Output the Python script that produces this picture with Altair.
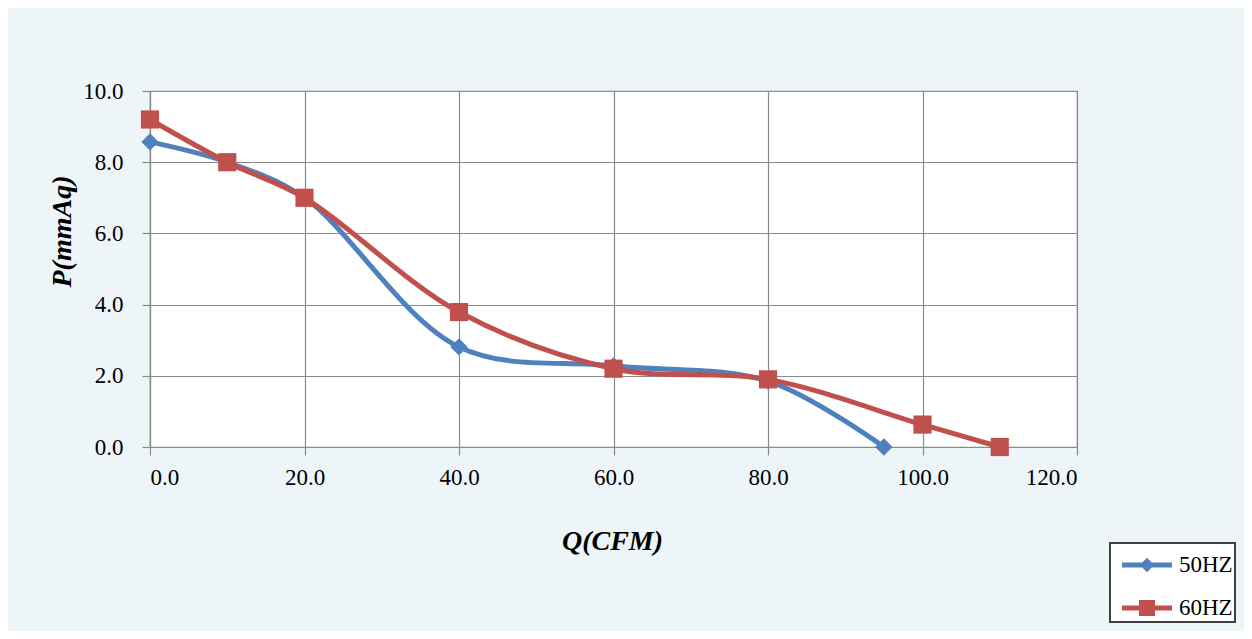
import altair as alt
import pandas as pd

# ---- data ----
q_50 = [0, 10, 20, 40, 60, 80, 95]
p_50 = [8.57, 8.0, 7.0, 2.81, 2.28, 1.85, 0.0]
q_60 = [0, 10, 20, 40, 60, 80, 100, 110]
p_60 = [9.2, 8.0, 7.0, 3.79, 2.2, 1.9, 0.63, 0.0]
series_names = ["50HZ", "60HZ"]
series_colors = ["#4F81BD", "#C0504D"]
series_shapes = ["diamond", "square"]
x_ticks = [0, 20, 40, 60, 80, 100, 120]
y_ticks = [0, 2, 4, 6, 8, 10]

rows = []
for q, p in zip(q_50, p_50):
    rows.append({"Q": q, "P": p, "series": series_names[0]})
for q, p in zip(q_60, p_60):
    rows.append({"Q": q, "P": p, "series": series_names[1]})
df = pd.DataFrame(rows)

FONT = "Liberation Serif"
GRID = "#8a8a8a"

xenc = alt.X(
    "Q:Q",
    scale=alt.Scale(domain=[0, 120], nice=False),
    axis=alt.Axis(
        values=x_ticks, format=".1f", tickSize=8, labelPadding=11,
        title="Q(CFM)", titleX=462, titleY=94, titleAlign="center",
        titleBaseline="middle",
    ),
)
yenc = alt.Y(
    "P:Q",
    scale=alt.Scale(domain=[0, 10], nice=False),
    axis=alt.Axis(
        values=y_ticks, format=".1f", tickSize=8, labelPadding=19,
        title="P(mmAq)", titleX=-88, titleY=140, titleAngle=-90,
        titleAlign="center", titleBaseline="middle",
    ),
)

# legend glyphs: line segment with the series marker on it
legend_path_50 = ("M-1.25,-0.12L1.25,-0.12L1.25,0.12L-1.25,0.12Z "
                  "M0,-0.36L0.36,0L0,0.36L-0.36,0Z")
legend_path_60 = ("M-1.25,-0.12L1.25,-0.12L1.25,0.12L-1.25,0.12Z "
                  "M-0.4,-0.4L0.4,-0.4L0.4,0.4L-0.4,0.4Z")

base = alt.Chart(df)

layers = []
marker_sizes = [300, 330]
for name, col, shp, sz in zip(series_names, series_colors, series_shapes, marker_sizes):
    sub = base.transform_filter(alt.datum.series == name)
    layers.append(
        sub.mark_line(interpolate="catmull-rom", strokeWidth=5, color=col)
        .encode(x=xenc, y=yenc)
    )
for name, col, shp, sz in zip(series_names, series_colors, series_shapes, marker_sizes):
    sub = base.transform_filter(alt.datum.series == name)
    layers.append(
        sub.mark_point(filled=True, opacity=1, size=sz, shape=shp, color=col, clip=False)
        .encode(x=xenc, y=yenc)
    )

legend = alt.Legend(title=None, orient="none", legendX=960, legendY=452)
legend_layer = base.mark_point(filled=True, opacity=0).encode(
    x=xenc, y=yenc,
    color=alt.Color("series:N",
                    scale=alt.Scale(domain=series_names, range=series_colors),
                    legend=legend),
    shape=alt.Shape("series:N",
                    scale=alt.Scale(domain=series_names,
                                    range=[legend_path_50, legend_path_60]),
                    legend=legend),
)
layers.insert(0, legend_layer)

chart = alt.layer(*layers).properties(
    width=927, height=356,
    autosize=alt.AutoSizeParams(type="none"),
    padding={"left": 142, "top": 83, "right": 167, "bottom": 184},
    background="#EDF5F9",
).configure_view(
    fill="white", stroke=GRID, strokeWidth=1.2,
).configure_axis(
    grid=True, gridColor=GRID, gridWidth=1.2, gridOpacity=1,
    domainColor=GRID, domainWidth=1.2, tickColor=GRID, tickWidth=1.2,
    labelFont=FONT, labelFontSize=23, labelColor="black",
    titleFont=FONT, titleFontSize=28, titleFontStyle="italic",
    titleFontWeight="bold", titleColor="black",
).configure_legend(
    fillColor="white", strokeColor="#404040", strokeWidth=2,
    padding=2, symbolOffset=15, symbolSize=1600, symbolStrokeWidth=0,
    symbolOpacity=1, labelOffset=12, rowPadding=11,
    labelFont=FONT, labelFontSize=23, labelColor="black",
)

chart.save("out.html", embed_options={"renderer": "svg", "actions": False})
